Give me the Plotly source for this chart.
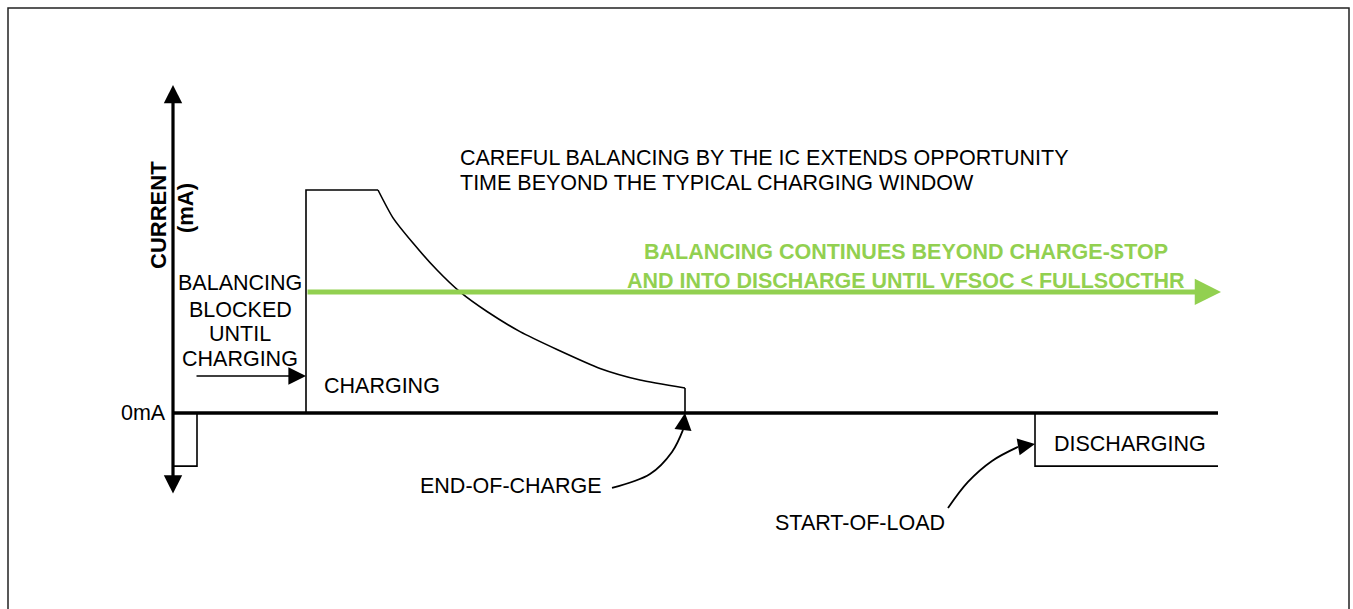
import plotly.graph_objects as go

# time in arbitrary units, current in mA (plateau = 1000 mA)
pulse_t = [0, 0, 2.4, 2.4]
pulse_ma = [0, -238, -238, 0]

charge_t = [13.3, 13.3, 20.5]
charge_ma = [0, 1000, 1000]

decay_t = [20.5, 22.0, 24.0, 26.4, 28.7, 31.4, 34.7, 38.4, 42.7, 46.7, 51.2]
decay_ma = [1000, 875, 762, 641, 543, 455, 365, 285, 200, 148, 112]

eoc_t = [51.2, 51.2]
eoc_ma = [112, 0]

discharge_t = [86.2, 86.2, 104.5]
discharge_ma = [0, -238, -238]

zero_t = [0, 104.5]
zero_ma = [0, 0]

balance_t = [13.3, 104.8]
balance_ma = [543, 543]

axis_t = 0
axis_ma = [-368, 1471]

blocked_t = [2.2, 13.3]
blocked_ma = [166, 166]

eoc_curve_t = [43.9, 47.7, 49.9, 51.0]
eoc_curve_ma = [-336, -274, -175, -76]
eoc_tip = (51.2, 0)

sol_curve_t = [77.5, 79.5, 81.9, 84.5]
sol_curve_ma = [-426, -309, -215, -152]
sol_tip = (86.2, -139)

blocked_lines = ["BALANCING", "BLOCKED", "UNTIL", "CHARGING"]
blocked_lines_ma = [583, 462, 354, 240]

note_lines = ["CAREFUL BALANCING BY THE IC EXTENDS OPPORTUNITY",
              "TIME BEYOND THE TYPICAL CHARGING WINDOW"]
note_lines_ma = [1143, 1031]

green_lines = ["BALANCING CONTINUES BEYOND CHARGE-STOP",
               "AND INTO DISCHARGE UNTIL VFSOC &lt; FULLSOCTHR"]
green_lines_ma = [722, 592]

GREEN = "#92D050"
FONT = "Arial, Liberation Sans, sans-serif"
FS = 21.5

fig = go.Figure()

line_thin = dict(color="black", width=1.6)
fig.add_trace(go.Scatter(x=pulse_t, y=pulse_ma, mode="lines", line=line_thin))
fig.add_trace(go.Scatter(x=charge_t, y=charge_ma, mode="lines", line=line_thin))
fig.add_trace(go.Scatter(x=decay_t, y=decay_ma, mode="lines",
                         line=dict(color="black", width=1.6, shape="spline", smoothing=0.6)))
fig.add_trace(go.Scatter(x=eoc_t, y=eoc_ma, mode="lines", line=line_thin))
fig.add_trace(go.Scatter(x=discharge_t, y=discharge_ma, mode="lines", line=line_thin))
fig.add_trace(go.Scatter(x=zero_t, y=zero_ma, mode="lines", line=dict(color="black", width=3.5)))
fig.add_trace(go.Scatter(x=eoc_curve_t, y=eoc_curve_ma, mode="lines",
                         line=dict(color="black", width=1.8, shape="spline")))
fig.add_trace(go.Scatter(x=sol_curve_t, y=sol_curve_ma, mode="lines",
                         line=dict(color="black", width=1.8, shape="spline")))

arrows = [
    # y axis (both ends)
    dict(x=axis_t, y=axis_ma[1], ax=axis_t, ay=axis_ma[0], arrowwidth=3.2,
         arrowsize=1.15, arrowside="end+start", arrowcolor="black"),
    # green balancing arrow
    dict(x=balance_t[1], y=balance_ma[1], ax=balance_t[0], ay=balance_ma[0],
         arrowwidth=5, arrowsize=1.05, arrowcolor=GREEN),
    # balancing blocked arrow
    dict(x=blocked_t[1], y=blocked_ma[1], ax=blocked_t[0], ay=blocked_ma[0],
         arrowwidth=1.6, arrowsize=2.2, arrowcolor="black"),
    # end-of-charge arrowhead
    dict(x=eoc_tip[0], y=eoc_tip[1], ax=eoc_curve_t[-1], ay=eoc_curve_ma[-1],
         arrowwidth=1.8, arrowsize=1.9, arrowcolor="black"),
    # start-of-load arrowhead
    dict(x=sol_tip[0], y=sol_tip[1], ax=sol_curve_t[-1], ay=sol_curve_ma[-1],
         arrowwidth=1.8, arrowsize=1.9, arrowcolor="black"),
]
for a in arrows:
    fig.add_annotation(text="", xref="x", yref="y", axref="x", ayref="y",
                       showarrow=True, arrowhead=2, standoff=0, startstandoff=0,
                       startarrowhead=2, startarrowsize=a.get("arrowsize", 1), **a)

labels = [
    ("0mA", -0.5, 0, "right"),
    ("CHARGING", 20.9, 121, "center"),
    ("END-OF-CHARGE", 33.8, -327, "center"),
    ("START-OF-LOAD", 68.7, -493, "center"),
    ("DISCHARGING", 95.7, -139, "center"),
]
for text, ma in zip(blocked_lines, blocked_lines_ma):
    labels.append((text, 6.7, ma, "center"))
for text, ma in zip(note_lines, note_lines_ma):
    labels.append((text, 28.5, ma, "left"))

for text, t, ma, xa in labels:
    fig.add_annotation(text=text, x=t, y=ma, xref="x", yref="y", showarrow=False,
                       xanchor=xa, yanchor="middle",
                       font=dict(family=FONT, size=FS, color="black"))

for text, ma in zip(green_lines, green_lines_ma):
    fig.add_annotation(text="<b>" + text + "</b>", x=73.3, y=ma, xref="x", yref="y",
                       showarrow=False, xanchor="center", yanchor="middle",
                       font=dict(family=FONT, size=FS, color=GREEN))

fig.add_annotation(text="<b>CURRENT</b>", x=-1.4, y=888, xref="x", yref="y",
                   showarrow=False, textangle=-90,
                   font=dict(family=FONT, size=22, color="black"))
fig.add_annotation(text="<b>(mA)</b>", x=1.2, y=919, xref="x", yref="y",
                   showarrow=False, textangle=-90,
                   font=dict(family=FONT, size=22, color="black"))

fig.add_shape(type="rect", xref="paper", yref="paper",
              x0=8 / 1353, x1=1349 / 1353, y0=-0.05, y1=1 - 8 / 609,
              line=dict(color="#222222", width=1.5))

fig.update_layout(
    width=1353, height=609,
    margin=dict(l=0, r=0, t=0, b=0),
    showlegend=False,
    plot_bgcolor="white", paper_bgcolor="white",
    xaxis=dict(range=[-17.3, 118.0], visible=False, fixedrange=True),
    yaxis=dict(range=[-878.9, 1852.0], visible=False, fixedrange=True),
)

fig.write_html("out.html", config={"displayModeBar": False},
               post_script="document.body.style.margin='0';")
